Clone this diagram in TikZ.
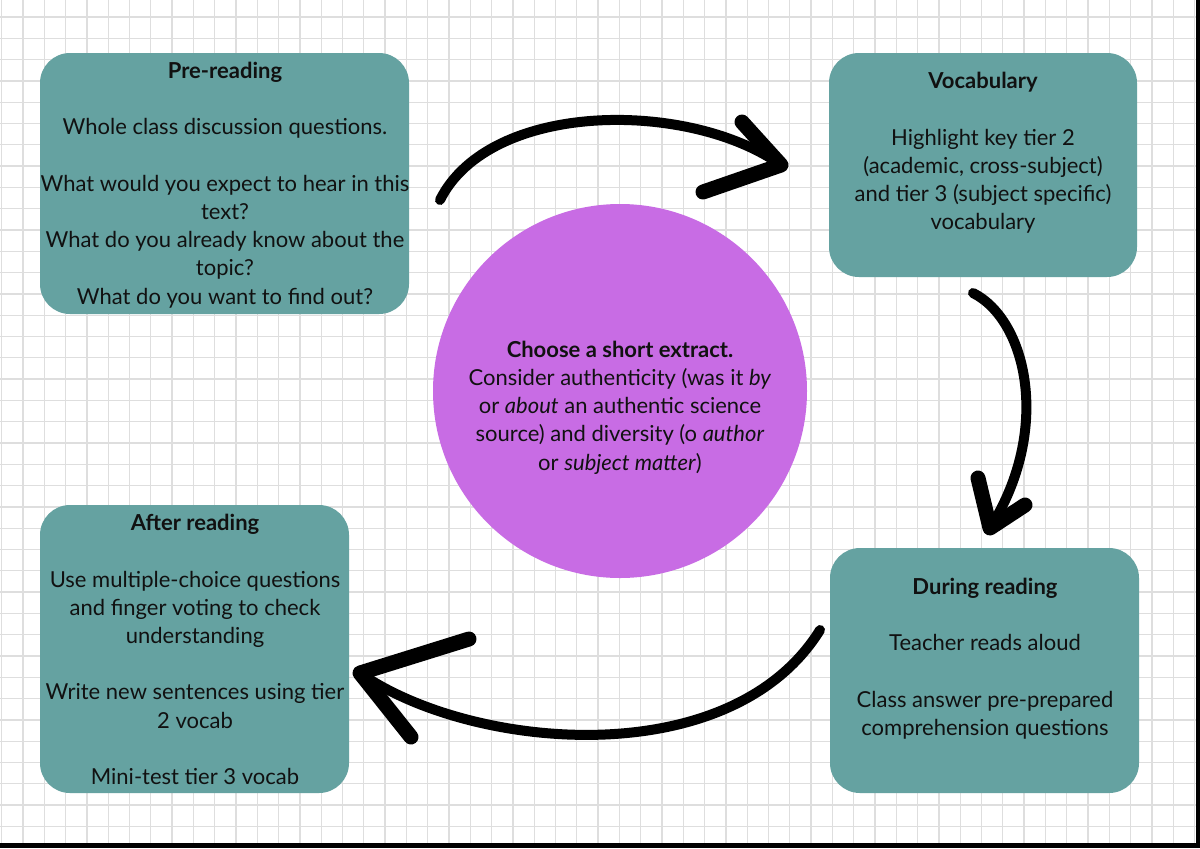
\documentclass[tikz,border=0pt]{standalone}
\usepackage{fontspec}
\setmainfont{Lato}
\usepackage{xcolor}
\usepackage{tikz}
\usetikzlibrary{arrows.meta,positioning,calc}
\definecolor{cardteal}{HTML}{65A2A1}
\definecolor{hubpurple}{HTML}{C86CE4}
\definecolor{gridgray}{HTML}{DEDEDE}
\definecolor{ink}{HTML}{111111}
\tikzset{
  card/.style     ={rounded corners=15pt,fill=cardteal,draw=none,inner sep=0pt},
  hub/.style      ={circle,fill=hubpurple,draw=none,minimum size=187pt,inner sep=0pt},
  txt/.style      ={align=center,text=ink,inner sep=0pt,
                    font=\fontsize{11}{14.1}\selectfont},
  gridline/.style ={draw=gridgray,line width=0.65pt},
  brush/.style    ={draw=black,line width=5pt,line cap=round},
  brushhead/.style={draw=black,line width=7.5pt,line cap=round,line join=round}
}

\begin{document}
\begin{tikzpicture}[x=0.5pt,y=-0.5pt]
  \useasboundingbox (0,0) rectangle (1200,848);
  % squared paper
  \fill[white] (0,0) rectangle (1200,848);
  \foreach \i in {0,...,56} \draw[gridline] ({1.7+21.3*\i},0) -- ++(0,848);
  \foreach \j in {1,...,39} \draw[gridline] (0,{-4.3+21.3*\j}) -- ++(1200,0);
  \fill[black] (1196,0) rectangle (1200,848);
  \fill[black] (0,843) rectangle (1200,848);

  % the four stages and the centre
  \node[card,minimum width=184.5pt,minimum height=130.5pt] (pre) at (224.5,183.5) {};
  \node[card,minimum width=154pt,minimum height=112pt] (vocab) at (983,165) {};
  \node[card,minimum width=154.5pt,minimum height=144pt] (after) at (194.5,649) {};
  \node[card,minimum width=154.5pt,minimum height=122.5pt] (during) at (984.5,670.5) {};
  \node[hub] (extract) at (620,391) {};

  \node[txt] (pretext) at (225,185) {\textbf{Pre-reading}\\[14.1pt]
    Whole class discussion questions.\\[14.1pt]
    What would you expect to hear in this\\ text?\\
    What do you already know about the\\ topic?\\
    What do you want to find out?};
  \node[txt] (vocabtext) at (983,153) {\textbf{Vocabulary}\\[14.1pt]
    Highlight key tier 2\\ (academic, cross-subject)\\
    and tier 3 (subject specific)\\ vocabulary};
  \node[txt] (aftertext) at (195,649.5) {\textbf{After reading}\\[14.1pt]
    Use multiple-choice questions\\ and finger voting to check\\ understanding\\[14.1pt]
    Write new sentences using tier\\ 2 vocab\\[14.1pt]
    Mini-test tier 3 vocab};
  \node[txt] (duringtext) at (985,658.5) {\textbf{During reading}\\[14.1pt]
    Teacher reads aloud\\[14.1pt]
    Class answer pre-prepared\\ comprehension questions};
  \node[txt] (extracttext) at (620,407.5) {\textbf{Choose a short extract.}\\
    Consider authenticity (was it \textit{by}\\
    or \textit{about} an authentic science\\
    source) and diversity (o \textit{author}\\
    or \textit{subject matter})};

  % hand-drawn arrows round the cycle
  \coordinate (a1s) at (440,200);
  \coordinate (a1t) at (781,165);
  \coordinate (a2s) at (973,293);
  \coordinate (a2t) at (990,528);
  \coordinate (a3s) at (820,630);
  \coordinate (a3t) at (360,673);
  \draw[brush] (a1s) .. controls (490,100) and (690,100) .. (a1t);
  \draw[brushhead] (742,122) -- (a1t) -- (703,192);
  \draw[brush] (a2s) .. controls (1027,320) and (1052,430) .. (a2t);
  \draw[brushhead] (978,478) -- (a2t) -- (1025,505);
  \draw[brush] (a3s) .. controls (730,775) and (470,750) .. (a3t);
  \draw[brushhead] (469,639) -- (a3t) -- (411,737);
\end{tikzpicture}
\end{document}
